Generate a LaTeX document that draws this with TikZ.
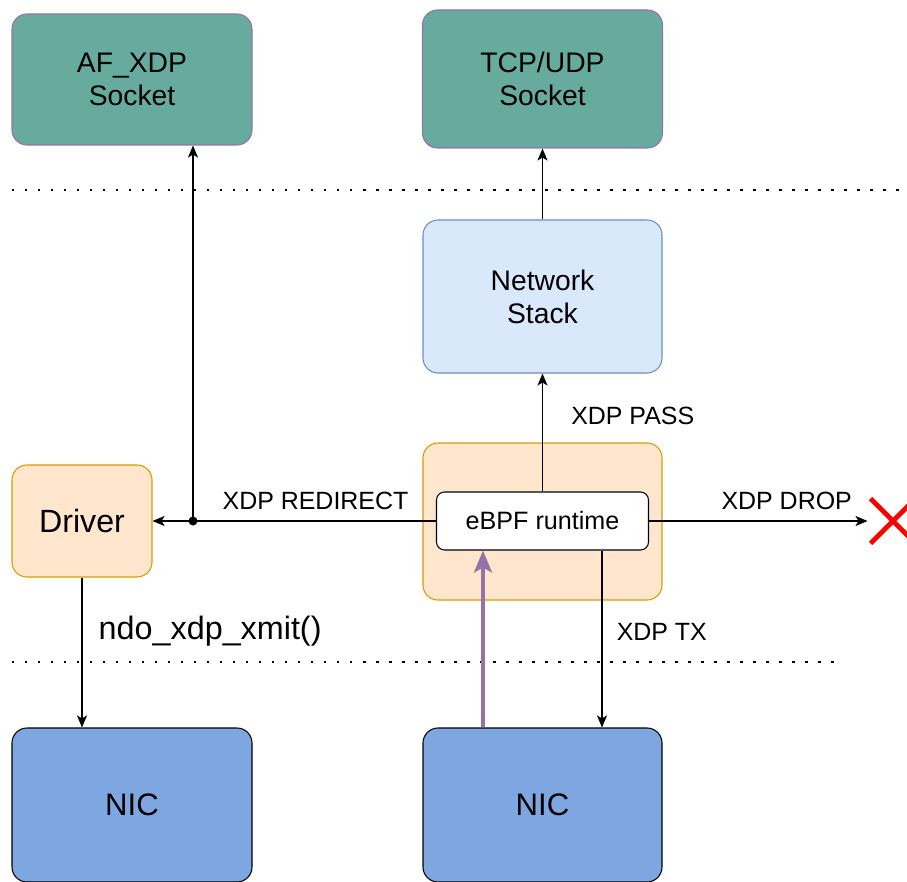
\documentclass[tikz,border=0pt]{standalone}
\usepackage{fontspec}
\setmainfont{Liberation Sans}
\usetikzlibrary{arrows.meta,shapes.misc}
\newcommand{\pxu}{0.02cm}

\begin{document}
\begin{tikzpicture}[x=0.02cm,y=-0.02cm,
		box/.style={rounded corners=15*\pxu, line width=0.6pt, align=center, inner sep=0pt},
		sockbox/.style={box, fill=green0, draw=purple0, minimum width=240*\pxu, font=\fontsize{16.1}{18.7}\selectfont},
		arr/.style={-{Stealth[length=12*\pxu, width=10*\pxu, inset=3*\pxu]}, line width=0.85pt},
		lbl/.style={font=\fontsize{14.2}{16}\selectfont, inner sep=0pt},
		sep/.style={line width=1.4pt, dash pattern=on 1.4pt off 6pt},
	]
	\definecolor{green0}{HTML}{67AB9F}
	\definecolor{purple0}{HTML}{9673A6}
	\definecolor{blue0}{HTML}{DAE8FC}
	\definecolor{blue1}{HTML}{6C8EBF}
	\definecolor{orange0}{HTML}{FFE6CC}
	\definecolor{orange1}{HTML}{D79B00}
	\definecolor{nicblue}{HTML}{7EA6E0}
	\useasboundingbox (0,0) rectangle (907,882);

	% kernel / user space separators
	\draw[sep] (12,190) -- (907,190);
	\draw[sep] (12,662) -- (838,662);

	% user space
	\node (afxdp) [sockbox, minimum height=131*\pxu] at (132,79.5) {AF\_XDP\\Socket};
	\node (tcpudp) [sockbox, minimum height=138*\pxu] at (542.5,79) {TCP/UDP\\Socket};

	% kernel
	\node (netstack) [box, fill=blue0, draw=blue1, minimum width=239*\pxu, minimum height=153*\pxu,
		font=\fontsize{16.1}{18.7}\selectfont] at (542.5,296.5) {Network\\Stack};
	\node (xdpbox) [box, fill=orange0, draw=orange1, minimum width=239*\pxu, minimum height=157*\pxu] at (542.5,521.5) {};
	\node (ebpf) [box, rounded corners=8*\pxu, fill=white, draw=black, minimum width=212*\pxu, minimum height=58*\pxu,
		font=\fontsize{14.3}{16}\selectfont] at (542.5,521) {eBPF runtime};
	\node (driver) [box, fill=orange0, draw=orange1, minimum width=140*\pxu, minimum height=112*\pxu,
		font=\fontsize{18.3}{20}\selectfont] at (82,521) {Driver};

	% hardware
	\node (nicl) [box, fill=nicblue, draw=black, minimum width=240*\pxu, minimum height=154*\pxu,
		font=\fontsize{17.7}{20}\selectfont] at (132,805) {NIC};
	\node (nicr) [box, fill=nicblue, draw=black, minimum width=239*\pxu, minimum height=154*\pxu,
		font=\fontsize{17.7}{20}\selectfont] at (542.5,805) {NIC};

	% XDP actions
	\draw[arr] (netstack) -- (tcpudp);
	\draw[arr] (ebpf) -- node[lbl, pos=0.64, anchor=west, xshift=28*\pxu] {XDP PASS} (netstack);

	\coordinate (split) at (193,521);
	\draw[arr] (ebpf.west) -- node[lbl, pos=0.425, anchor=south, yshift=11*\pxu] {XDP REDIRECT} (driver.east);
	\fill (split) circle[radius=4.5*\pxu];
	\draw[arr] (split) -- (split |- afxdp.south);

	\node (dropx) [cross out, draw=red, line width=2.8pt, minimum size=40*\pxu, inner sep=0pt] at (893,521) {};
	\draw[arr] (ebpf.east) -- node[lbl, pos=0.63, anchor=south, yshift=11*\pxu] {XDP DROP} ([xshift=-3*\pxu]dropx.west);

	\draw[arr] ([xshift=59.5*\pxu]ebpf.south) -- node[lbl, pos=0.46, anchor=west, xshift=14*\pxu] {XDP TX} ([xshift=59.5*\pxu]nicr.north);
	\draw[-{Stealth[length=22*\pxu, width=18*\pxu, inset=5*\pxu]}, line width=2.3pt, draw=purple0, fill=purple0]
		([xshift=-59.5*\pxu]nicr.north) -- ([xshift=-59.5*\pxu]ebpf.south);

	\draw[arr] (driver.south) -- node[lbl, pos=0.36, anchor=west, xshift=16*\pxu, font=\fontsize{18.4}{20}\selectfont] {ndo\_xdp\_xmit()} (driver.south |- nicl.north);
\end{tikzpicture}
\end{document}
